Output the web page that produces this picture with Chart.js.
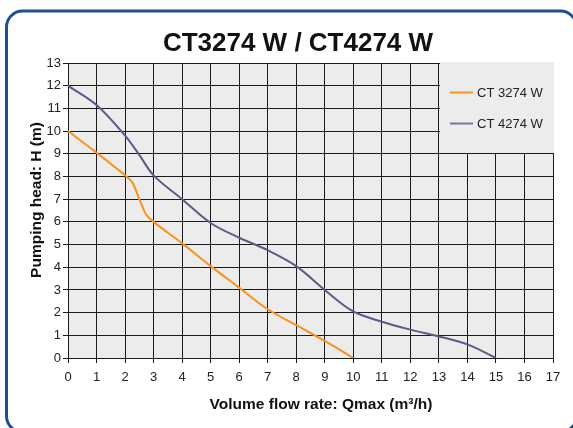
<!DOCTYPE html>
<html>
<head>
<meta charset="utf-8">
<script src="https://cdn.jsdelivr.net/npm/chart.js@4.4.1/dist/chart.umd.min.js"></script>
<style>
  html, body { margin: 0; padding: 0; background: #fff; }
  canvas { display: block; }
</style>
</head>
<body>
<canvas id="pumpChart" width="573" height="428"></canvas>
<script>
// pump curves
var flow3274 = [0, 1, 2, 2.25, 2.5, 2.75, 3, 4, 5, 6, 7, 8, 9, 10];
var head3274 = [10, 9.05, 8.05, 7.75, 7.0, 6.3, 6.0, 5.05, 4.05, 3.1, 2.15, 1.45, 0.75, 0];
var flow4274 = [0, 1, 2, 2.5, 3, 4, 5, 6, 7, 8, 9, 10, 11, 12, 13, 14, 15];
var head4274 = [12, 11.15, 9.8, 8.95, 8.05, 7.0, 5.95, 5.3, 4.75, 4.05, 3.0, 2.05, 1.6, 1.25, 0.95, 0.6, 0];
var seriesNames = ['CT 3274 W', 'CT 4274 W'];
var seriesColors = ['#f7931e', '#5d5a88'];
var chartTitle = 'CT3274 W / CT4274 W';
var xTitle = 'Volume flow rate: Qmax (m\u00b3/h)';
var yTitle = 'Pumping head: H (m)';

var FONT = "'Liberation Sans', Arial, sans-serif";

function toPoints(xs, ys) {
    var pts = [];
    for (var i = 0; i < xs.length; i++) pts.push({x: xs[i], y: ys[i]});
    return pts;
}

function roundRect(ctx, x, y, w, h, r) {
    ctx.beginPath();
    ctx.moveTo(x + r, y);
    ctx.lineTo(x + w - r, y);
    ctx.arcTo(x + w, y, x + w, y + r, r);
    ctx.lineTo(x + w, y + h - r);
    ctx.arcTo(x + w, y + h, x + w - r, y + h, r);
    ctx.lineTo(x + r, y + h);
    ctx.arcTo(x, y + h, x, y + h - r, r);
    ctx.lineTo(x, y + r);
    ctx.arcTo(x, y, x + r, y, r);
    ctx.closePath();
}

var decor = {
    id: 'decor',
    beforeDraw: function(chart) {
        var ctx = chart.ctx, a = chart.chartArea;
        ctx.save();
        ctx.fillStyle = '#fff';
        ctx.fillRect(0, 0, chart.width, chart.height);
        // blue frame
        roundRect(ctx, 6.5, 11, 570, 421, 16);
        ctx.lineWidth = 3;
        ctx.strokeStyle = '#1e4f8f';
        ctx.stroke();
        // plot background
        ctx.fillStyle = '#ececec';
        ctx.fillRect(a.left, a.top, a.right - a.left, a.bottom - a.top);
        ctx.restore();
    },
    beforeDatasetsDraw: function(chart) {
        // legend box sits on top of the grid in the upper right corner
        var ctx = chart.ctx, xs = chart.scales.x, ys = chart.scales.y;
        var l = Math.round(xs.getPixelForValue(13)) + 1;
        var r = Math.round(xs.getPixelForValue(17)) + 1;
        var t = Math.round(ys.getPixelForValue(13)) - 1;
        var b = Math.round(ys.getPixelForValue(9)) - 1;
        ctx.save();
        ctx.fillStyle = '#ececec';
        ctx.fillRect(l, t, r - l, b - t);
        ctx.restore();
    },
    afterDraw: function(chart) {
        var ctx = chart.ctx;
        ctx.save();
        ctx.fillStyle = '#111';
        ctx.textAlign = 'center';
        ctx.textBaseline = 'middle';
        ctx.font = 'bold 26px ' + FONT;
        ctx.fillText(chartTitle, 298, 44);
        ctx.font = 'bold 15.5px ' + FONT;
        ctx.fillText(xTitle, 321, 405);
        // y axis title, rotated
        ctx.save();
        ctx.translate(37, 200);
        ctx.rotate(-Math.PI / 2);
        ctx.fillText(yTitle, 0, 0);
        ctx.restore();

        // legend
        ctx.font = '13px ' + FONT;
        ctx.textAlign = 'left';
        var rows = [92.5, 123.5];
        for (var i = 0; i < seriesNames.length; i++) {
            ctx.strokeStyle = seriesColors[i];
            ctx.lineWidth = 2;
            ctx.globalAlpha = i === 1 ? 0.8 : 1;
            ctx.beginPath();
            ctx.moveTo(450, rows[i]);
            ctx.lineTo(473, rows[i]);
            ctx.stroke();
            ctx.globalAlpha = 1;
            ctx.fillStyle = '#222';
            ctx.fillText(seriesNames[i], 477, rows[i] + 0.5);
        }
        ctx.restore();
    }
};

new Chart(document.getElementById('pumpChart'), {
    type: 'line',
    data: {
        datasets: [{
            label: seriesNames[0],
            data: toPoints(flow3274, head3274),
            borderColor: seriesColors[0],
            borderWidth: 2,
            pointRadius: 0,
            tension: 0.35,
            fill: false
        }, {
            label: seriesNames[1],
            data: toPoints(flow4274, head4274),
            borderColor: seriesColors[1],
            borderWidth: 2,
            pointRadius: 0,
            tension: 0.35,
            fill: false
        }]
    },
    options: {
        responsive: false,
        animation: false,
        events: [],
        layout: {
            padding: {left: 24, top: 63, right: 20, bottom: 10}
        },
        plugins: {
            legend: {display: false},
            title: {display: false},
            tooltip: {enabled: false}
        },
        scales: {
            x: {
                type: 'linear',
                min: 0,
                max: 17,
                afterFit: function(scale) { scale.height = 60; },
                ticks: {
                    stepSize: 1,
                    padding: 7,
                    color: '#222',
                    font: {family: FONT, size: 13}
                },
                grid: {color: '#1a1a1a', lineWidth: 1, tickLength: 5},
                border: {color: '#1a1a1a'}
            },
            y: {
                type: 'linear',
                min: 0,
                max: 13,
                afterFit: function(scale) { scale.width = 44; },
                ticks: {
                    stepSize: 1,
                    padding: 2,
                    color: '#222',
                    font: {family: FONT, size: 13}
                },
                grid: {color: '#1a1a1a', lineWidth: 1, tickLength: 5},
                border: {color: '#1a1a1a'}
            }
        }
    },
    plugins: [decor]
});
</script>
</body>
</html>
